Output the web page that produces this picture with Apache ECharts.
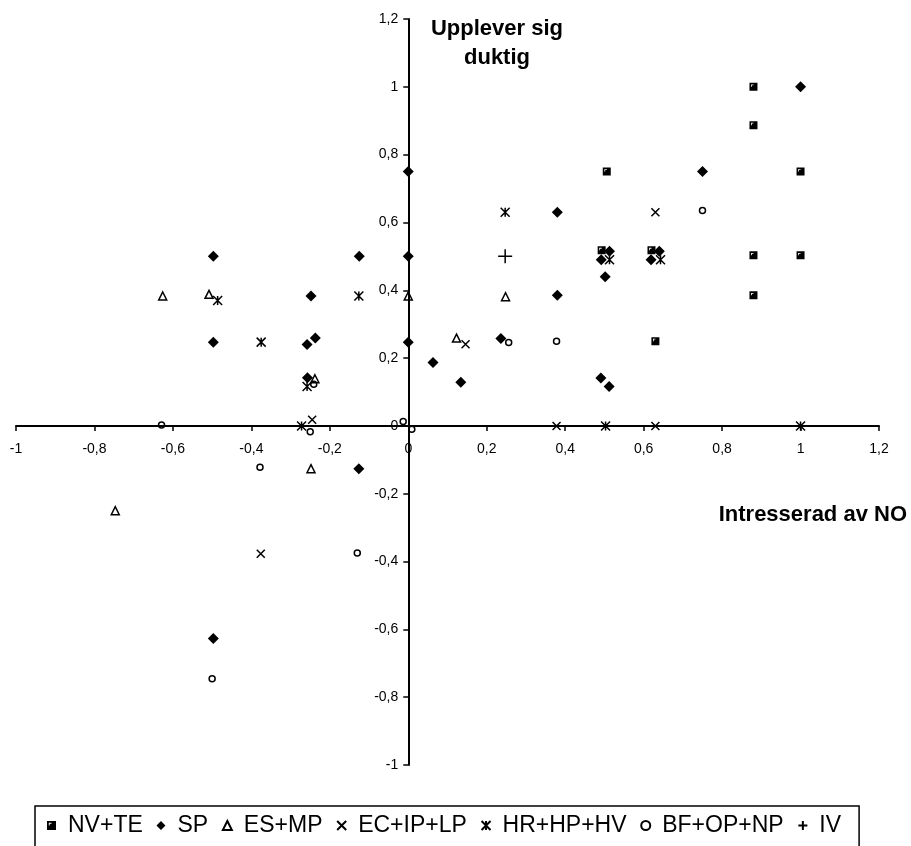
<!DOCTYPE html>
<html>
<head>
<meta charset="utf-8">
<script src="https://cdn.jsdelivr.net/npm/echarts@6/dist/echarts.min.js"></script>
<style>
  html, body { margin: 0; padding: 0; background: #fff; }
  #chart { width: 911px; height: 846px; }
</style>
</head>
<body>
<div id="chart"></div>
<script>
// Group names (legend order)
var groupNames = ['NV+TE', 'SP', 'ES+MP', 'EC+IP+LP', 'HR+HP+HV', 'BF+OP+NP', 'IV'];

// [interest in NO, feels capable] per group
var nvTe = [[0.88, 1.0], [0.88, 0.887], [0.506, 0.75], [1.0, 0.75], [0.88, 0.503], [1.0, 0.503],
  [0.88, 0.385], [0.493, 0.518], [0.62, 0.518], [0.63, 0.25]];
var sp = [[1.0, 1.0], [0.75, 0.75], [0.38, 0.63], [0, 0.75], [0, 0.5], [0.513, 0.515], [0.492, 0.49],
  [0.64, 0.515], [0.619, 0.49], [0.502, 0.44], [0.38, 0.385], [0, 0.247], [0.063, 0.187],
  [0.134, 0.129], [0.236, 0.258], [0.491, 0.141], [0.512, 0.116], [-0.497, 0.5], [-0.125, 0.5],
  [-0.248, 0.383], [-0.497, 0.247], [-0.258, 0.24], [-0.237, 0.259], [-0.257, 0.142],
  [-0.126, -0.126], [-0.497, -0.627]];
var esMp = [[-0.626, 0.383], [-0.508, 0.388], [0, 0.383], [0.123, 0.259], [0.248, 0.381],
  [-0.238, 0.139], [-0.248, -0.126], [-0.747, -0.25]];
var ecIpLp = [[0.63, 0.63], [0.146, 0.241], [0.378, 0], [0.63, 0], [-0.245, 0.018], [-0.376, -0.377]];
var hrHpHv = [[0.247, 0.63], [0.513, 0.49], [0.643, 0.49], [0.503, 0], [1.0, 0], [-0.486, 0.37],
  [-0.375, 0.247], [-0.126, 0.383], [-0.258, 0.116], [-0.272, 0]];
var bfOpNp = [[0.75, 0.635], [0.256, 0.246], [0.378, 0.25], [-0.013, 0.013], [0.009, -0.01],
  [-0.629, 0.003], [-0.241, 0.123], [-0.25, -0.017], [-0.378, -0.122], [-0.13, -0.375], [-0.5, -0.746]];
var iv = [[0.247, 0.5]];

// Axis range and tick step (both axes)
var axisMin = -1, axisMax = 1.2, axisStep = 0.2;

var FONT = "'Liberation Sans', Arial, Helvetica, sans-serif";
var INK = '#000';
var CLEAR = 'rgba(0,0,0,0)';

function tickText(v) {
  return String(+v.toFixed(1)).replace('.', ',');
}

// Marker shapes: filled square with a small light corner, diamond, hollow triangle,
// cross, star (cross with a vertical bar), hollow circle, plus
var SQUARE = 'path://M0,0H10V10H0Z M2,2V5H3V3H5V2Z';
var CROSS = 'path://M0,0L10,10M10,0L0,10';
var STAR = 'path://M0,0L10,10M10,0L0,10M5,0L5,10';
var PLUS = 'path://M5,0L5,10M0,5L10,5';

var markerDefs = [
  { data: nvTe, symbol: SQUARE, size: 8, fill: INK, line: 0 },
  { data: sp, symbol: 'diamond', size: 11, fill: INK, line: 0 },
  { data: esMp, symbol: 'triangle', size: 8, fill: CLEAR, line: 1.5 },
  { data: ecIpLp, symbol: CROSS, size: 8, fill: CLEAR, line: 1.5 },
  { data: hrHpHv, symbol: STAR, size: 9, fill: CLEAR, line: 1.5 },
  { data: bfOpNp, symbol: 'circle', size: 6, fill: CLEAR, line: 1.5 },
  { data: iv, symbol: PLUS, size: 14, fill: CLEAR, line: 1.5 }
];

var series = markerDefs.map(function (d, i) {
  return {
    name: groupNames[i],
    type: 'scatter',
    data: d.data,
    symbol: d.symbol,
    symbolSize: d.size,
    symbolKeepAspect: true,
    itemStyle: { color: d.fill, borderColor: INK, borderWidth: d.line, opacity: 1 },
    emphasis: { disabled: true }
  };
});

function valueAxis(isX) {
  return {
    type: 'value',
    position: isX ? 'bottom' : 'left',
    min: axisMin,
    max: axisMax,
    interval: axisStep,
    axisLine: { onZero: false, lineStyle: { color: INK, width: 2 } },
    axisTick: { show: true, length: 5, lineStyle: { color: INK, width: 1.5 } },
    axisLabel: {
      color: INK,
      fontFamily: FONT,
      fontSize: 14,
      margin: isX ? 16 : 10,
      formatter: tickText
    },
    splitLine: { show: false }
  };
}

var GRID = { left: 16, right: 32, top: 19, bottom: 81 };
var H = 846;

var chart = echarts.init(document.getElementById('chart'), null, { renderer: 'canvas' });
chart.setOption({
  animation: false,
  backgroundColor: '#fff',
  grid: { left: GRID.left, right: GRID.right, top: GRID.top, bottom: GRID.bottom,
    containLabel: false, outerBoundsMode: 'none' },
  xAxis: valueAxis(true),
  yAxis: valueAxis(false),
  legend: {
    data: groupNames,
    left: 35,
    top: 806,
    itemWidth: 9,
    itemHeight: 9,
    itemGap: 13.7,
    borderColor: INK,
    borderWidth: 1.5,
    padding: [8, 18, 30, 12],
    selectedMode: false,
    textStyle: { color: INK, fontFamily: FONT, fontSize: 23, padding: [0, 0, 0, 7] }
  },
  graphic: [
    {
      type: 'text',
      x: 497,
      y: 14,
      style: {
        text: 'Upplever sig\nduktig',
        font: 'bold 22px ' + FONT,
        fill: INK,
        textAlign: 'center',
        textVerticalAlign: 'top',
        lineHeight: 29
      }
    },
    {
      type: 'text',
      x: 907,
      y: 515,
      style: {
        text: 'Intresserad av NO',
        font: 'bold 22px ' + FONT,
        fill: INK,
        textAlign: 'right',
        textVerticalAlign: 'middle'
      }
    }
  ],
  series: series
});

// Move both axes (line, ticks and labels) so they cross at the origin
var origin = chart.convertToPixel({ gridIndex: 0 }, [0, 0]);
chart.setOption({
  xAxis: { offset: origin[1] - (H - GRID.bottom) },
  yAxis: { offset: GRID.left - origin[0] }
});
</script>
</body>
</html>
